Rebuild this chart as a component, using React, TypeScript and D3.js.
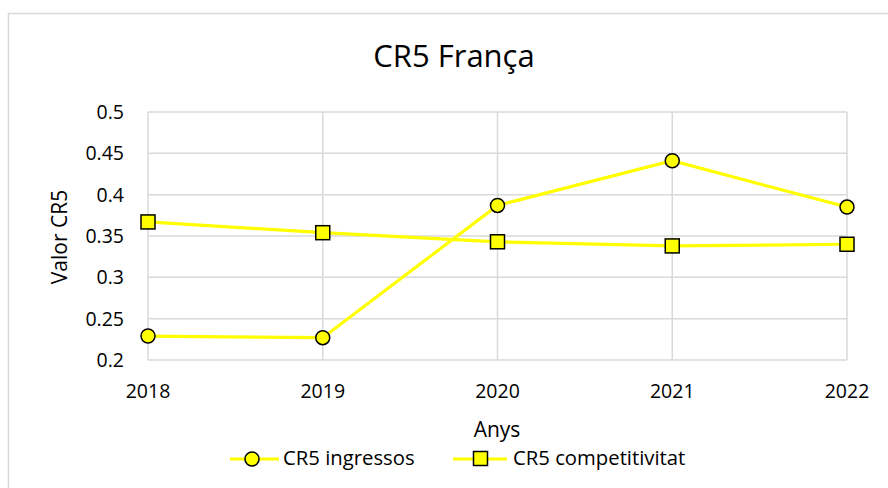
import React from "react";
import * as d3 from "d3";

const years = ["2018", "2019", "2020", "2021", "2022"];
const ingressos = [0.229, 0.227, 0.387, 0.441, 0.385];
const competitivitat = [0.367, 0.354, 0.343, 0.338, 0.34];
const yTicks = [0.2, 0.25, 0.3, 0.35, 0.4, 0.45, 0.5];
const seriesNames = ["CR5 ingressos", "CR5 competitivitat"];

const W = 888;
const H = 488;
const FONT = "'Open Sans', sans-serif";

export default function App() {
  const x = d3.scalePoint<string>().domain(years).range([148, 847]);
  const y = d3.scaleLinear().domain([0.2, 0.5]).range([360, 112]);
  const line = d3
    .line<number>()
    .x((_, i) => x(years[i]) as number)
    .y((d) => y(d));
  const grid = "#d9d9d9";
  const yellow = "#ffff00";

  return (
    <svg
      width={W}
      height={H}
      style={{ position: "absolute", left: 0, top: 0, background: "#fff" }}
      fontFamily={FONT}
    >
      <rect x={8.5} y={13.5} width={W + 20} height={H + 20} fill="#fff" stroke={grid} strokeWidth={1.5} />
      <text x={454} y={67} textAnchor="middle" fontSize={31} fill="#000">
        CR5 França
      </text>
      {yTicks.map((t) => (
        <g key={t}>
          <line x1={148} x2={847} y1={y(t)} y2={y(t)} stroke={grid} strokeWidth={1.5} />
          <text x={124} y={y(t)} dy="0.36em" textAnchor="end" fontSize={19.5} fill="#000">
            {String(t)}
          </text>
        </g>
      ))}
      {years.map((yr) => (
        <g key={yr}>
          <line x1={x(yr)} x2={x(yr)} y1={112} y2={360} stroke={grid} strokeWidth={1.5} />
          <text x={x(yr)} y={398} textAnchor="middle" fontSize={19.5} fill="#000">
            {yr}
          </text>
        </g>
      ))}
      <text x={497} y={437} textAnchor="middle" fontSize={21} fill="#000">
        Anys
      </text>
      <text
        transform={`translate(67,237) rotate(-90)`}
        textAnchor="middle"
        fontSize={21}
        fill="#000"
      >
        Valor CR5
      </text>
      <path d={line(competitivitat) || ""} fill="none" stroke={yellow} strokeWidth={3.2} />
      <path d={line(ingressos) || ""} fill="none" stroke={yellow} strokeWidth={3.2} />
      {competitivitat.map((v, i) => (
        <rect
          key={"s" + i}
          x={(x(years[i]) as number) - 7}
          y={y(v) - 7}
          width={14}
          height={14}
          fill={yellow}
          stroke="#000"
          strokeWidth={1.5}
        />
      ))}
      {ingressos.map((v, i) => (
        <circle key={"c" + i} cx={x(years[i]) as number} cy={y(v)} r={7} fill={yellow} stroke="#000" strokeWidth={1.5} />
      ))}
      <g>
        <line x1={230} x2={279} y1={459} y2={459} stroke={yellow} strokeWidth={3.2} />
        <circle cx={252} cy={459} r={7} fill={yellow} stroke="#000" strokeWidth={1.5} />
        <text x={283} y={465} fontSize={20.3} fill="#000">
          {seriesNames[0]}
        </text>
        <line x1={453} x2={507} y1={459} y2={459} stroke={yellow} strokeWidth={3.2} />
        <rect x={473.5} y={451.5} width={14} height={14} fill={yellow} stroke="#000" strokeWidth={1.5} />
        <text x={513} y={465} fontSize={20.3} fill="#000">
          {seriesNames[1]}
        </text>
      </g>
    </svg>
  );
}
